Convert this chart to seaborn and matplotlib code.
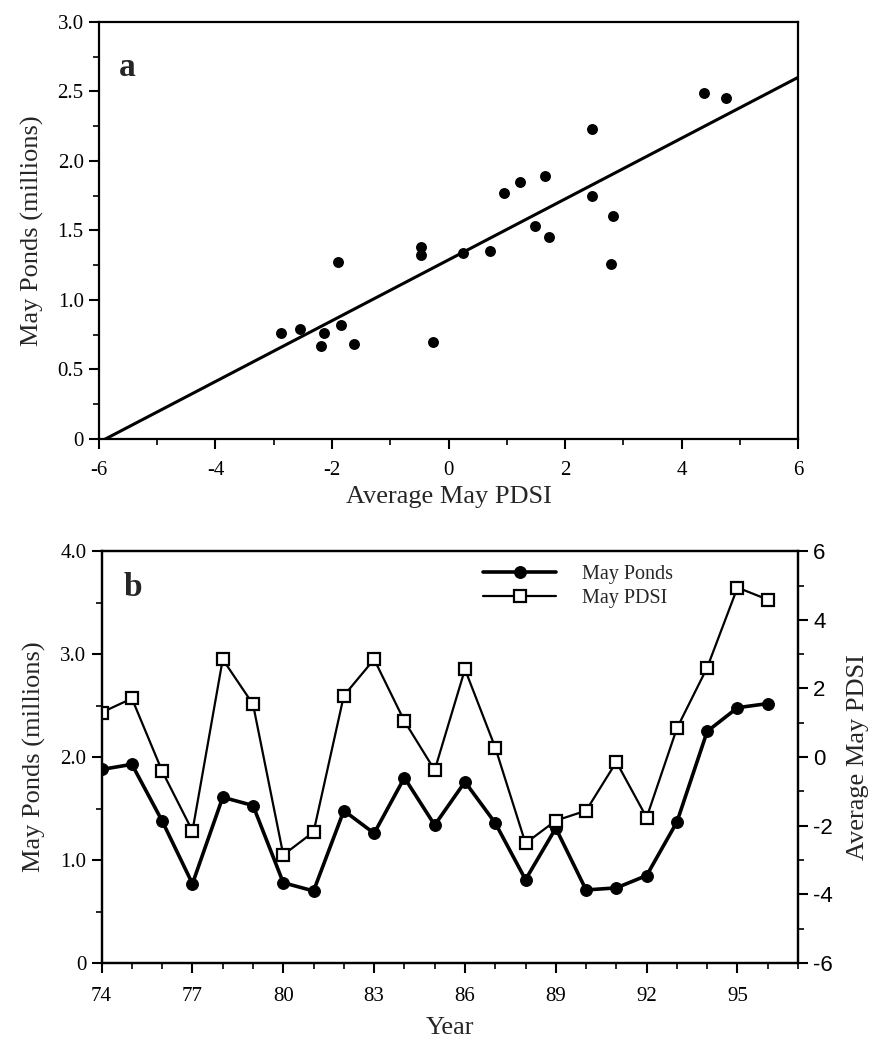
import matplotlib
matplotlib.use("Agg")
import matplotlib.pyplot as plt
from matplotlib.ticker import FixedLocator, MultipleLocator
import pandas as pd
import seaborn as sns

# panel a: average May PDSI vs May ponds (millions)
pdsi_avg = [-2.87, -2.55, -2.19, -2.13, -1.85, -1.89, -1.62, -0.48, -0.48, -0.26,
            0.25, 0.71, 0.95, 1.23, 1.49, 1.66, 1.73, 2.46, 2.46, 2.82, 2.79, 4.39, 4.77]
ponds_avg = [0.76, 0.79, 0.67, 0.76, 0.82, 1.27, 0.68, 1.38, 1.32, 0.70,
             1.34, 1.35, 1.77, 1.85, 1.53, 1.89, 1.45, 2.23, 1.75, 1.60, 1.26, 2.49, 2.45]

# panel b: yearly series 1974-1996
years = list(range(74, 97))
may_ponds = [1.88, 1.93, 1.38, 0.77, 1.61, 1.53, 0.78, 0.70, 1.48, 1.26, 1.80, 1.34,
             1.76, 1.36, 0.81, 1.31, 0.71, 0.73, 0.85, 1.37, 2.25, 2.48, 2.52]
may_pdsi = [1.30, 1.71, -0.41, -2.15, 2.85, 1.54, -2.85, -2.18, 1.79, 2.85, 1.05, -0.38,
            2.56, 0.28, -2.51, -1.85, -1.56, -0.14, -1.76, 0.84, 2.61, 4.94, 4.59]
legend_labels = ["May Ponds", "May PDSI"]

# tick labels
x_ticks_a = [-6, -4, -2, 0, 2, 4, 6]
y_ticks_a = [0, 0.5, 1.0, 1.5, 2.0, 2.5, 3.0]
y_labels_a = ["0", "0.5", "1.0", "1.5", "2.0", "2.5", "3.0"]
year_ticks = [74, 77, 80, 83, 86, 89, 92, 95]
pond_ticks = [0, 1, 2, 3, 4]
pond_labels = ["0", "1.0", "2.0", "3.0", "4.0"]
pdsi_ticks = [-6, -4, -2, 0, 2, 4, 6]

sns.set_style("ticks")
plt.rcParams['font.family'] = ['Liberation Serif', 'DejaVu Serif']
plt.rcParams['axes.unicode_minus'] = False
plt.rcParams['axes.linewidth'] = 1.6

TICK_FS = 15
LABEL_FS = 19


def style_ticks(ax, pad=4):
    ax.tick_params(which='major', direction='out', length=7, width=1.5, pad=pad,
                   labelsize=TICK_FS, color='black', labelcolor='black')
    ax.tick_params(which='minor', direction='out', length=4, width=1.2, color='black')
    for s in ax.spines.values():
        s.set_color('black')
        s.set_linewidth(1.6)


fig = plt.figure(figsize=(8.76, 10.4), dpi=100)

# ---- panel a ----
ax_a = fig.add_axes([0.113, 0.578, 0.798, 0.401])
ax_a.set_xlim(-6, 6)
ax_a.set_ylim(0, 3)
df_a = pd.DataFrame({'pdsi': pdsi_avg, 'ponds': ponds_avg})
sns.regplot(data=df_a, x='pdsi', y='ponds', ax=ax_a, ci=None, truncate=False,
            color='black',
            scatter_kws=dict(s=62, alpha=1, linewidths=0),
            line_kws=dict(lw=2.2))
ax_a.set_xlim(-6, 6)
ax_a.set_ylim(0, 3)
ax_a.xaxis.set_major_locator(FixedLocator(x_ticks_a))
ax_a.xaxis.set_minor_locator(MultipleLocator(1))
ax_a.set_yticks(y_ticks_a)
ax_a.set_yticklabels(y_labels_a)
ax_a.yaxis.set_minor_locator(MultipleLocator(0.25))
style_ticks(ax_a)
ax_a.tick_params(axis='x', which='major', pad=9)
ax_a.set_xlabel("Average May PDSI", fontsize=LABEL_FS, labelpad=4)
ax_a.set_ylabel("May Ponds (millions)", fontsize=LABEL_FS, labelpad=10)
ax_a.text(0.04, 0.89, "a", transform=ax_a.transAxes, fontsize=24,
          fontweight='bold', ha='center', va='center')

# ---- panel b ----
ax_b = fig.add_axes([0.116, 0.074, 0.795, 0.396])
df_b = pd.DataFrame({'year': years, 'ponds': may_ponds, 'pdsi': may_pdsi})
sns.lineplot(data=df_b, x='year', y='ponds', ax=ax_b, color='black', lw=2.6,
             marker='o', markersize=8.5, markeredgecolor='black', legend=False)
ax_r = ax_b.twinx()
sns.lineplot(data=df_b, x='year', y='pdsi', ax=ax_r, color='black', lw=1.6,
             marker='s', markersize=8, markerfacecolor='white',
             markeredgecolor='black', markeredgewidth=1.6, legend=False)

ax_b.set_xlim(74, 97)
ax_b.set_ylim(0, 4)
ax_r.set_ylim(-6, 6)
ax_b.xaxis.set_major_locator(FixedLocator(year_ticks))
ax_b.xaxis.set_minor_locator(MultipleLocator(1))
ax_b.set_yticks(pond_ticks)
ax_b.set_yticklabels(pond_labels)
ax_b.yaxis.set_minor_locator(MultipleLocator(0.5))
ax_r.set_yticks(pdsi_ticks)
ax_r.yaxis.set_minor_locator(MultipleLocator(1))
style_ticks(ax_b)
style_ticks(ax_r)
ax_b.tick_params(axis='x', which='major', pad=10)
for t in ax_r.get_yticklabels():
    t.set_fontfamily('Liberation Sans')
    t.set_fontsize(16)

ax_b.set_xlabel("Year", fontsize=LABEL_FS, labelpad=8)
ax_b.set_ylabel("May Ponds (millions)", fontsize=LABEL_FS, labelpad=10)
ax_r.set_ylabel("Average May PDSI", fontsize=LABEL_FS, rotation=90, labelpad=10)
ax_b.text(0.045, 0.913, "b", transform=ax_b.transAxes, fontsize=24,
          fontweight='bold', ha='center', va='center')

handles = [ax_b.lines[0], ax_r.lines[0]]
ax_r.legend(handles, legend_labels, loc='upper left', bbox_to_anchor=(0.522, 1.01),
            frameon=False, fontsize=14.5, handlelength=3.6, handletextpad=1.3,
            labelspacing=0.25, numpoints=1)

fig.savefig("out.png", dpi=100)
